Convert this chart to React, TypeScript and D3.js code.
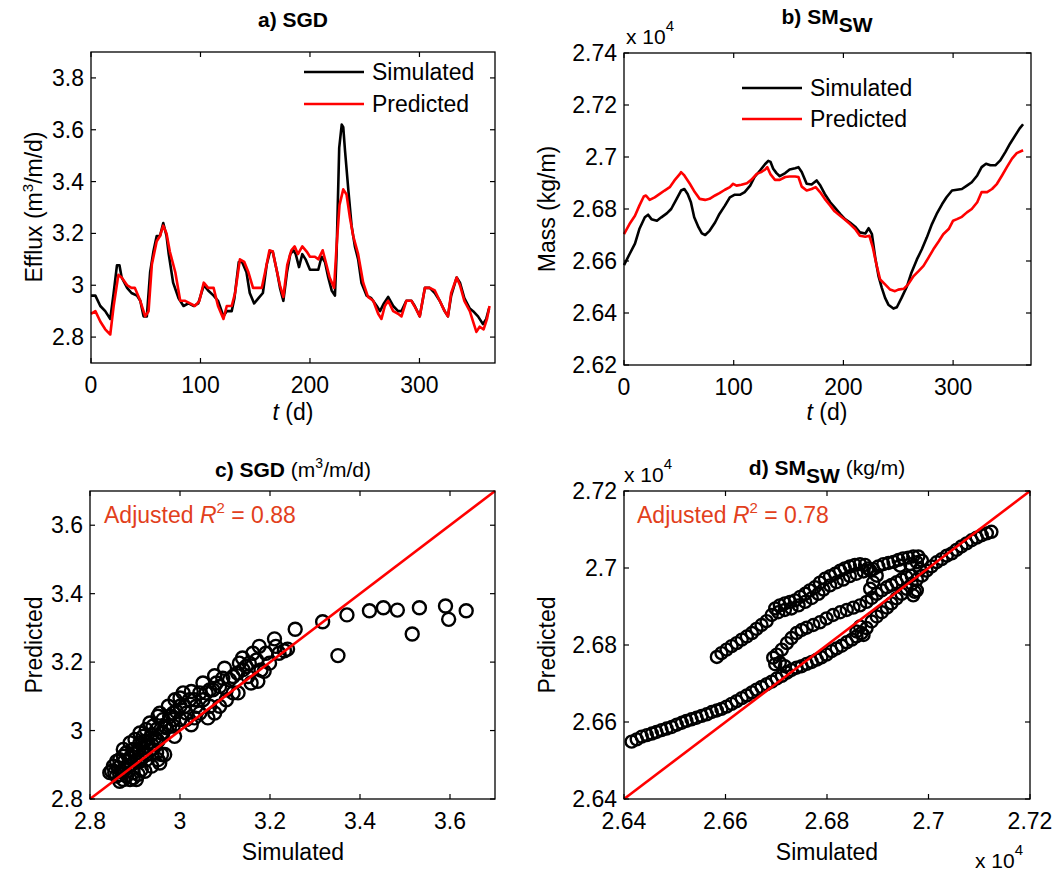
import React from "react";
import * as d3 from "d3";

const FONT = "'Liberation Sans', Arial, Helvetica, sans-serif";
const RED = "#ff0000";
const NOTE = "#e2401c";

// ---------- a) SGD time series ----------
const sgdSimDays = [0,4,8.5,13,17.6,20.7,23.7,26,28,33,37,42,45,48,51,54,57,60,63,66,69,71,75,80,84.5,89,94,98,103,107,112,116,121,124,128.5,131,135,138,142,145,149,153,157,160.5,163.5,166,170,172.6,175.7,179,182,185,187,190,193,196,200,204.5,207.6,210.6,213.7,216.7,219.8,222.8,224.3,226.7,229,230.4,232,235,238,241,244,247,251.7,256,261,264,267.5,271.4,276,280.5,283.6,288,292.7,295.7,300.3,305,309.4,314,318.5,323,326,329,334,337,341,346,349,353.5,358,361,363.5];
const sgdSim = [2.96,2.96,2.92,2.90,2.87,2.97,3.077,3.077,3.03,2.99,2.97,2.96,2.94,2.88,2.88,3.05,3.13,3.19,3.19,3.24,3.19,3.12,3.01,2.95,2.92,2.93,2.92,2.93,3.0,2.98,2.96,2.94,2.88,2.90,2.90,2.95,3.09,3.09,3.05,2.97,2.93,2.95,2.97,3.08,3.13,3.13,3.05,2.99,2.94,3.05,3.12,3.135,3.12,3.07,3.12,3.10,3.06,3.06,3.06,3.11,3.09,3.03,2.98,2.96,3.12,3.53,3.62,3.61,3.52,3.37,3.23,3.15,3.10,3.01,2.96,2.95,2.92,2.90,2.93,2.955,2.92,2.90,2.90,2.94,2.94,2.92,2.88,2.99,2.99,2.97,2.94,2.90,2.88,2.96,3.03,3.01,2.95,2.91,2.90,2.88,2.85,2.87,2.91];
const sgdPredDays = [0,4,8.5,13,17.6,20.7,25,28,33,37,40,45,49.5,52.6,55.6,60,63,66,69,72,77,81.5,86,90.5,95,99,103,107,112,116,121,124,128.5,131.6,136,140,143.8,148,151,156,159,163,166,170,172.6,175.7,179.3,183,186,189,193,197,200,204.5,207.6,211.6,215,218,222,224.3,227,230.4,233.4,236.5,239.5,244,248.6,253,257.8,262.3,265.3,268.4,271.4,276,280.5,283.6,288,292.7,296.7,300.3,305,309.4,314,318.5,323,326,329,334,337,341,346,349,352,355,358.6,361.7,364];
const sgdPred = [2.89,2.90,2.86,2.83,2.81,2.92,3.04,3.03,3.0,2.99,2.99,2.94,2.88,2.90,3.08,3.17,3.19,3.23,3.20,3.13,3.05,2.94,2.94,2.93,2.92,2.94,3.01,2.99,2.99,2.92,2.87,2.92,2.92,2.97,3.10,3.09,3.05,2.99,2.99,2.99,3.05,3.135,3.13,3.05,3.0,2.955,3.08,3.135,3.15,3.12,3.15,3.13,3.11,3.11,3.10,3.135,3.08,3.03,2.99,3.15,3.31,3.37,3.35,3.26,3.19,3.12,3.01,2.955,2.94,2.89,2.87,2.92,2.94,2.90,2.89,2.88,2.94,2.94,2.91,2.88,2.99,2.99,2.98,2.94,2.90,2.88,2.97,3.03,3.0,2.94,2.90,2.86,2.82,2.84,2.83,2.87,2.92];
const aXTicks = [0, 100, 200, 300];
const aYTicks = [2.8, 3, 3.2, 3.4, 3.6, 3.8];

// ---------- b) SM_SW time series (kg/m) ----------
const smSimDays = [0,5,10,14,19,22,25,30,34,39,43,48,52,55,58,61,64,68,71,74,78,83,87,92,96.5,101,106,110,115,119,124,128.5,131.5,133.6,136,139,142,147,151,156,159,162,166.5,171,175.6,179,183,188,192,197,201.5,206,210.7,215,220,223,226,229,232,235,238,241,245.6,248.7,253,258,262,267,271.5,276,280.7,285,290,294,299,303.5,308,312.6,317,322,326,330,334,338.5,343,347.6,352,356.8,360.7,363.8];
const smSim = [26584,26626,26667,26723,26768,26778,26761,26755,26768,26783,26800,26839,26871,26877,26858,26826,26768,26729,26706,26700,26716,26748,26781,26813,26845,26855,26855,26865,26890,26923,26948,26972,26985,26981,26955,26938,26926,26938,26952,26957,26961,26942,26897,26894,26910,26890,26858,26826,26806,26781,26761,26748,26732,26710,26706,26726,26703,26613,26542,26497,26458,26432,26417,26422,26458,26503,26555,26606,26645,26690,26742,26781,26819,26845,26871,26874,26877,26890,26903,26929,26961,26974,26968,26968,26987,27019,27052,27084,27110,27126];
const smPredDays = [0,5,10,14,18,20,23.4,28,32.6,37,41.7,46,51,52,55,60,64.5,69,74,78,83,87,92,96.5,99.5,102.6,107,112,116,121,125,128.5,130.6,133.6,137.6,142,147,151,156,159,162,166.5,171,174.7,178.7,183,188,192,197,201.5,206,210.7,215,220,223.7,226.8,230.4,233.5,238,242.6,247,250,255,259,264,268.5,273,277.6,282,286.8,291,296,300,303.5,308,312.6,317,322,326,331,335.5,340,344.6,349,353.7,358,363.8];
const smPred = [26703,26742,26774,26813,26848,26852,26835,26845,26858,26871,26884,26910,26935,26942,26929,26897,26865,26839,26835,26839,26852,26861,26874,26884,26897,26890,26893,26899,26912,26935,26942,26951,26961,26933,26912,26912,26923,26925,26925,26923,26886,26871,26877,26884,26865,26839,26813,26791,26774,26759,26742,26723,26697,26693,26697,26652,26581,26529,26510,26490,26484,26490,26493,26510,26542,26561,26581,26613,26645,26675,26703,26723,26755,26761,26770,26787,26800,26826,26865,26865,26877,26897,26929,26961,26994,27015,27026];
const bXTicks = [0, 100, 200, 300];
const bYTicks = [26200, 26400, 26600, 26800, 27000, 27200, 27400];

// ---------- c) SGD scatter ----------
const scSim = [3.636,3.590,3.597,3.532,3.516,3.483,3.452,3.421,3.371,3.351,3.317,3.256,3.210,3.232,3.239,3.176,3.162,3.139,3.158,3.173,3.187,3.151,3.129,3.132,3.099,3.077,3.051,3.025,3.000,3.025,3.062,3.077,3.103,3.118,2.988,3.073,3.088,3.110,3.036,3.051,3.014,3.000,2.977,2.962,2.951,2.940,2.925,2.918,2.911,2.896,2.881,2.866,2.852,2.844,2.859,2.874,2.889,2.870,2.885,2.900,2.914,2.925,2.937,2.948,2.959,2.925,2.911,2.933,2.955,2.974,2.989,3.007,3.000,2.977,2.874,2.889,2.900,2.948,2.962,2.896,2.914,2.955,2.866,2.848,3.088,3.066,3.044,3.118,3.147,3.170,3.191,3.213,3.220,3.199,3.180,3.058,3.021,2.985,
  2.855,2.863,2.877,2.889,2.903,2.918,2.929,2.944,2.959,2.970,2.881,2.896,2.907,2.922,2.937,2.951,2.966,2.903,2.866,2.877,2.892,2.907,2.922,2.937,2.951,2.892,2.907,2.922,2.874,2.859,2.937,2.948,2.966,2.985,2.992,3.010,3.032,3.044,3.066,3.081,3.095,3.128,3.140,3.154,3.103,3.014,3.032,2.985,2.911,2.925];
const scPred = [3.350,3.364,3.325,3.359,3.282,3.352,3.359,3.350,3.338,3.219,3.318,3.296,3.268,3.233,3.238,3.246,3.226,3.212,3.139,3.144,3.173,3.158,3.110,3.197,3.182,3.160,3.139,3.114,3.095,3.017,3.037,3.051,3.090,3.110,2.983,3.119,3.129,3.148,3.071,3.090,3.051,3.032,3.013,3.032,3.042,3.013,3.003,2.983,2.964,2.945,2.935,2.915,2.896,2.877,2.867,2.857,2.857,2.881,2.896,2.910,2.920,2.930,2.945,2.935,2.930,2.954,2.993,3.022,3.051,3.071,3.090,3.110,3.071,3.042,2.945,2.964,2.974,2.974,2.993,2.877,2.886,2.905,2.852,2.881,3.071,3.071,3.051,3.158,3.187,3.206,3.226,3.246,3.226,3.197,3.177,3.110,3.090,3.051,
  2.877,2.891,2.911,2.920,2.935,2.949,2.964,2.979,2.993,3.008,2.867,2.862,2.872,2.881,2.896,2.915,2.930,2.857,2.872,2.886,2.901,2.915,2.935,2.959,2.969,2.925,2.945,2.969,2.925,2.910,2.988,3.003,3.013,3.032,3.056,3.071,3.090,3.110,3.119,3.139,3.153,3.168,3.178,3.197,3.119,3.032,3.037,3.013,2.910,2.915];
const cTicks = [2.8, 3, 3.2, 3.4, 3.6];

// ---------- d) SM_SW scatter (kg/m) ----------
const sdSim = [26415,26425,26435,26445,26455,26464,26474,26484,26494,26504,26514,26523,26533,26543,26553,26563,26573,26583,26592,26602,26612,26622,26632,26642,26652,26661,26671,26681,26691,26701,26711,26721,26730,26740,26750,26760,26770,26780,26789,26799,26809,26819,26829,26839,26849,26858,26868,26878,26888,26898,26908,26918,26927,26937,26947,26957,26967,26977,26987,26996,27006,27016,27026,27036,27046,27055,27065,27075,27085,27095,27105,27115,27124,
  26583,26592,26602,26612,26622,26632,26642,26652,26661,26671,26681,26691,26698,26707,26717,26727,26737,26747,26757,26766,26776,26786,26796,26806,26816,26826,26835,26845,26855,26865,26875,26881,
  26891,26901,26911,26921,26931,26941,26950,26960,26970,26980,26987,26983,26977,26970,
  26694,26701,26711,26721,26730,26740,26750,26760,26773,26786,26799,26812,26826,26839,26852,26865,26878,26888,26898,26908,26918,26927,26937,26947,26957,26967,26885,26891,26898,26707,
  26704,26717,26730,26744,26757,26770,26783,26793,26806,26819,26832,26845,26858,26872,26885,
  26858,26872,26865,26698,26717,26973,26944,26964,26977];
const sdPred = [26549,26555,26562,26566,26570,26574,26579,26583,26587,26593,26598,26603,26607,26611,26616,26620,26626,26630,26634,26640,26647,26654,26662,26669,26677,26684,26691,26698,26705,26713,26720,26728,26735,26741,26745,26751,26756,26762,26768,26775,26784,26791,26798,26807,26814,26822,26831,26844,26861,26874,26885,26897,26908,26921,26933,26946,26959,26970,26980,26993,27004,27015,27023,27032,27038,27047,27056,27064,27072,27079,27085,27090,27094,
  26769,26779,26788,26797,26805,26814,26822,26831,26842,26852,26862,26878,26895,26903,26908,26912,26916,26925,26933,26942,26950,26962,26972,26979,26985,26993,26999,27004,27008,27010,27008,26999,
  26997,27004,27010,27013,27016,27021,27025,27027,27030,27030,27019,26997,26942,26929,
  26767,26775,26788,26805,26818,26831,26839,26845,26852,26859,26869,26878,26885,26891,26897,26903,26912,26922,26933,26942,26950,26956,26963,26970,26976,26980,26946,26963,26980,26754,
  26885,26891,26895,26903,26912,26922,26933,26944,26955,26963,26970,26979,26985,26991,26994,
  26835,26826,26848,26750,26745,26938,27006,27010,27015];
const dTicks = [26400, 26600, 26800, 27000, 27200];

const fmt1 = (v: number) => String(+v.toFixed(2));
const fmt4 = (v: number) => String(+(v / 1e4).toFixed(2));

function Frame({ x, y, xTicks, yTicks, xFmt, yFmt }: any) {
  const [x0, x1] = x.range();
  const [yB, yT] = y.range();
  const L = 5;
  return (
    <g>
      <rect x={x0} y={yT} width={x1 - x0} height={yB - yT} fill="none" stroke="#000" strokeWidth={1.3} />
      {xTicks.map((t: number) => (
        <g key={"x" + t}>
          <line x1={x(t)} x2={x(t)} y1={yB} y2={yB - L} stroke="#000" strokeWidth={1.2} />
          <line x1={x(t)} x2={x(t)} y1={yT} y2={yT + L} stroke="#000" strokeWidth={1.2} />
          <text x={x(t)} y={yB + 30} textAnchor="middle" fontSize={23}>{xFmt(t)}</text>
        </g>
      ))}
      {yTicks.map((t: number) => (
        <g key={"y" + t}>
          <line x1={x0} x2={x0 + L} y1={y(t)} y2={y(t)} stroke="#000" strokeWidth={1.2} />
          <line x1={x1} x2={x1 - L} y1={y(t)} y2={y(t)} stroke="#000" strokeWidth={1.2} />
          <text x={x0 - 7} y={y(t) + 8} textAnchor="end" fontSize={23}>{yFmt(t)}</text>
        </g>
      ))}
    </g>
  );
}

function zip(a: number[], b: number[]): [number, number][] {
  return a.map((v, i) => [v, b[i]]);
}

export default function App() {
  const xa = d3.scaleLinear().domain([0, 369]).range([91, 495]);
  const ya = d3.scaleLinear().domain([2.7, 3.9]).range([363, 52]);
  const xb = d3.scaleLinear().domain([0, 371]).range([624, 1031]);
  const yb = d3.scaleLinear().domain([26200, 27400]).range([365, 53]);
  const xc = d3.scaleLinear().domain([2.8, 3.7]).range([90, 495]);
  const yc = d3.scaleLinear().domain([2.8, 3.7]).range([799, 491]);
  const xd = d3.scaleLinear().domain([26400, 27200]).range([624, 1030]);
  const yd = d3.scaleLinear().domain([26400, 27200]).range([799, 491]);

  const lineA = d3.line<[number, number]>().x((d) => xa(d[0])).y((d) => ya(d[1]));
  const lineB = d3.line<[number, number]>().x((d) => xb(d[0])).y((d) => yb(d[1]));

  return (
    <svg width={1059} height={877} style={{ position: "absolute", left: 0, top: 0, background: "#fff" }} fontFamily={FONT}>
      <rect x={0} y={0} width={1059} height={877} fill="#fff" />

      {/* ---- Panel a ---- */}
      <text x={293} y={27} textAnchor="middle" fontSize={21} fontWeight="bold">a) SGD</text>
      <path d={lineA(zip(sgdSimDays, sgdSim)) || ""} fill="none" stroke="#000" strokeWidth={2.6} strokeLinejoin="round" />
      <path d={lineA(zip(sgdPredDays, sgdPred)) || ""} fill="none" stroke={RED} strokeWidth={2.6} strokeLinejoin="round" />
      <Frame x={xa} y={ya} xTicks={aXTicks} yTicks={aYTicks} xFmt={fmt1} yFmt={fmt1} />
      <line x1={304} x2={364} y1={72} y2={72} stroke="#000" strokeWidth={2.6} />
      <text x={372} y={80} fontSize={23}>Simulated</text>
      <line x1={304} x2={364} y1={104} y2={104} stroke={RED} strokeWidth={2.6} />
      <text x={372} y={112} fontSize={23}>Predicted</text>
      <text transform="translate(42,207) rotate(-90)" textAnchor="middle" fontSize={23}>
        Efflux (m<tspan dy={-9} fontSize={15}>3</tspan><tspan dy={9}>/m/d)</tspan>
      </text>
      <text x={293} y={420} textAnchor="middle" fontSize={23}>
        <tspan fontStyle="italic">t</tspan> (d)
      </text>

      {/* ---- Panel b ---- */}
      <text x={827} y={24} textAnchor="middle" fontSize={21} fontWeight="bold">
        b) SM<tspan dy={8}>SW</tspan>
      </text>
      <text x={626} y={44} fontSize={21}>x 10<tspan dy={-13} fontSize={15}>4</tspan></text>
      <path d={lineB(zip(smSimDays, smSim)) || ""} fill="none" stroke="#000" strokeWidth={2.6} strokeLinejoin="round" />
      <path d={lineB(zip(smPredDays, smPred)) || ""} fill="none" stroke={RED} strokeWidth={2.6} strokeLinejoin="round" />
      <Frame x={xb} y={yb} xTicks={bXTicks} yTicks={bYTicks} xFmt={fmt1} yFmt={fmt4} />
      <line x1={742} x2={802} y1={88} y2={88} stroke="#000" strokeWidth={2.6} />
      <text x={810} y={96} fontSize={23}>Simulated</text>
      <line x1={742} x2={802} y1={119} y2={119} stroke={RED} strokeWidth={2.6} />
      <text x={810} y={127} fontSize={23}>Predicted</text>
      <text transform="translate(555,209) rotate(-90)" textAnchor="middle" fontSize={23}>Mass (kg/m)</text>
      <text x={827} y={420} textAnchor="middle" fontSize={23}>
        <tspan fontStyle="italic">t</tspan> (d)
      </text>

      {/* ---- Panel c ---- */}
      <text x={293} y={477} textAnchor="middle" fontSize={21}>
        <tspan fontWeight="bold">c) SGD</tspan> (m<tspan dy={-9} fontSize={14}>3</tspan><tspan dy={9}>/m/d)</tspan>
      </text>
      {scSim.map((s, i) => (
        <circle key={"c" + i} cx={xc(s)} cy={yc(scPred[i])} r={6.5} fill="none" stroke="#000" strokeWidth={2.4} />
      ))}
      <line x1={xc(2.8)} y1={yc(2.8)} x2={xc(3.7)} y2={yc(3.7)} stroke={RED} strokeWidth={2.6} />
      <Frame x={xc} y={yc} xTicks={cTicks} yTicks={cTicks} xFmt={fmt1} yFmt={fmt1} />
      <text x={104} y={523} fontSize={23} fill={NOTE}>
        Adjusted <tspan fontStyle="italic">R</tspan><tspan dy={-10} fontSize={15}>2</tspan><tspan dy={10}> = 0.88</tspan>
      </text>
      <text transform="translate(42,645) rotate(-90)" textAnchor="middle" fontSize={23}>Predicted</text>
      <text x={293} y={860} textAnchor="middle" fontSize={23}>Simulated</text>

      {/* ---- Panel d ---- */}
      <text x={827} y={475} textAnchor="middle" fontSize={21}>
        <tspan fontWeight="bold">d) SM<tspan dy={8}>SW</tspan></tspan><tspan dy={-8}> (kg/m)</tspan>
      </text>
      <text x={624} y={482} fontSize={21}>x 10<tspan dy={-13} fontSize={15}>4</tspan></text>
      {sdSim.map((s, i) => (
        <circle key={"d" + i} cx={xd(s)} cy={yd(sdPred[i])} r={6} fill="none" stroke="#000" strokeWidth={2.4} />
      ))}
      <line x1={xd(26400)} y1={yd(26400)} x2={xd(27200)} y2={yd(27200)} stroke={RED} strokeWidth={2.6} />
      <Frame x={xd} y={yd} xTicks={dTicks} yTicks={dTicks} xFmt={fmt4} yFmt={fmt4} />
      <text x={637} y={523} fontSize={23} fill={NOTE}>
        Adjusted <tspan fontStyle="italic">R</tspan><tspan dy={-10} fontSize={15}>2</tspan><tspan dy={10}> = 0.78</tspan>
      </text>
      <text transform="translate(555,645) rotate(-90)" textAnchor="middle" fontSize={23}>Predicted</text>
      <text x={827} y={860} textAnchor="middle" fontSize={23}>Simulated</text>
      <text x={975} y={868} fontSize={21}>x 10<tspan dy={-13} fontSize={15}>4</tspan></text>
    </svg>
  );
}
